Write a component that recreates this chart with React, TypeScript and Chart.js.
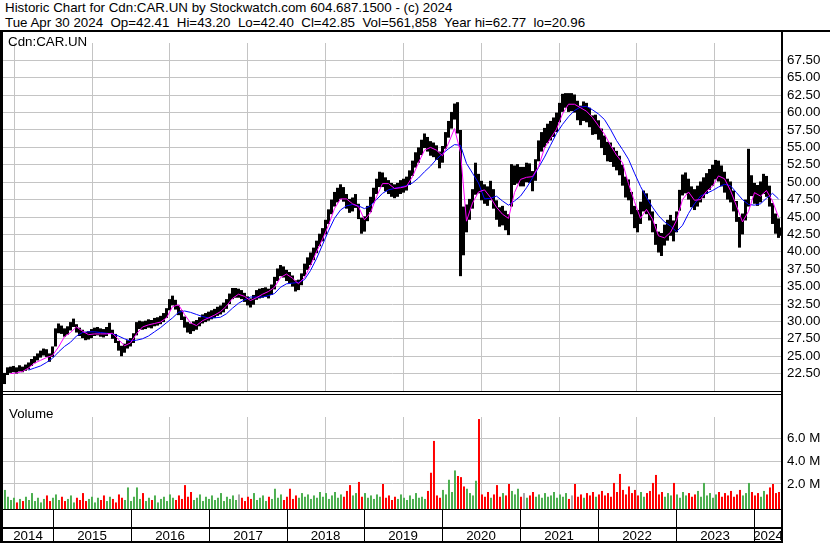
import React, { useEffect, useRef } from "react";
import { Chart, registerables } from "chart.js";

Chart.register(...registerables);

// ---------- data ----------
// biweekly samples, first one in mid-May 2014, last one at end of April 2024
const FIRST_SAMPLE = 2014.374; // fractional year
const SAMPLE_STEP = 0.03855; // ~14 days, in years

const LOWS = [
  21.0, 22.3, 22.6, 22.7, 22.5, 22.8, 22.7, 22.9, 23.1, 23.6,
  24.0, 24.4, 24.8, 25.1, 24.9, 24.2, 24.9, 26.4, 28.3, 28.2,
  27.8, 28.1, 28.7, 29.2, 28.4, 27.9, 27.6, 27.3, 27.4, 27.6,
  27.9, 28.0, 27.8, 27.7, 27.9, 28.2, 27.5, 26.9, 25.8, 25.0,
  25.5, 26.1, 26.4, 26.9, 28.0, 28.9, 28.8, 28.9, 29.1, 29.0,
  29.3, 29.4, 29.6, 29.9, 30.5, 31.6, 32.3, 31.7, 30.9, 30.2,
  29.1, 28.4, 28.2, 28.6, 28.8, 29.3, 29.7, 29.9, 30.1, 30.3,
  30.5, 30.8, 31.0, 31.3, 31.8, 32.5, 33.2, 33.4, 33.4, 33.2,
  32.8, 32.3, 32.0, 32.4, 33.1, 33.3, 33.4, 33.5, 33.3, 33.8,
  34.6, 35.8, 36.5, 36.3, 35.8, 35.5, 35.0, 34.3, 34.5, 35.2,
  36.5, 37.4, 38.1, 38.8, 39.8, 40.8, 41.5, 42.5, 44.0, 45.4,
  46.5, 47.1, 47.6, 47.2, 46.2, 45.6, 45.8, 46.3, 44.7, 42.6,
  42.9, 44.4, 45.7, 47.0, 48.3, 49.3, 49.3, 48.7, 48.3, 47.9,
  47.7, 47.9, 48.3, 48.5, 48.8, 49.6, 50.9, 52.1, 52.8, 53.9,
  54.9, 54.4, 53.8, 53.6, 53.2, 52.0, 52.8, 54.8, 56.4, 57.7,
  59.0, 57.0, 36.5, 39.5, 42.8, 44.6, 46.2, 48.2, 48.4, 47.4,
  46.9, 46.6, 47.4, 46.2, 44.6, 43.6, 43.8, 43.1, 42.4, 46.5,
  49.6, 49.8, 49.4, 49.4, 50.0, 49.9, 48.7, 50.2, 53.0, 54.4,
  55.0, 55.6, 56.0, 56.5, 57.2, 58.6, 60.1, 60.7, 60.1, 60.2,
  60.0, 58.9, 58.2, 58.8, 58.6, 57.9, 56.8, 56.9, 56.1, 54.9,
  53.9, 53.0, 52.9, 52.2, 51.7, 51.0, 49.5, 47.8, 47.4, 45.4,
  43.4, 42.8, 44.0, 45.8, 45.4, 44.5, 42.8, 41.0, 39.9, 39.4,
  40.9, 41.6, 42.3, 41.5, 42.8, 45.9, 48.1, 48.4, 47.5, 46.4,
  46.0, 46.5, 47.1, 47.7, 48.3, 48.9, 49.5, 50.4, 50.1, 49.4,
  48.5, 47.5, 47.1, 45.8, 44.3, 40.6, 42.5, 44.5, 46.5, 48.0,
  46.9, 46.6, 47.1, 48.3, 47.9, 46.5, 44.0, 42.6, 42.0, 42.3,
];

const HIGHS = [
  22.6, 23.4, 23.5, 23.6, 23.4, 23.7, 23.5, 23.8, 24.1, 24.6,
  25.0, 25.4, 25.8, 26.1, 26.0, 25.4, 26.4, 29.0, 29.7, 29.4,
  29.0, 29.3, 29.9, 30.4, 29.6, 29.1, 28.8, 28.5, 28.6, 28.9,
  29.1, 29.2, 29.0, 28.9, 29.2, 29.8, 28.8, 28.2, 27.2, 26.5,
  26.8, 27.3, 27.6, 28.3, 29.9, 30.1, 30.0, 30.1, 30.3, 30.2,
  30.5, 30.6, 30.8, 31.2, 31.9, 33.2, 33.7, 33.1, 32.3, 31.6,
  30.7, 29.9, 29.7, 30.0, 30.2, 30.6, 31.0, 31.2, 31.4, 31.6,
  31.8, 32.1, 32.3, 32.7, 33.2, 34.0, 34.8, 34.8, 34.7, 34.5,
  34.1, 33.6, 33.3, 33.8, 34.5, 34.7, 34.8, 34.9, 34.7, 35.3,
  36.4, 37.6, 38.1, 37.9, 37.4, 37.1, 36.6, 35.9, 36.0, 36.9,
  38.3, 39.2, 39.9, 40.6, 41.6, 42.6, 43.4, 44.6, 46.1, 47.5,
  48.6, 49.2, 49.7, 49.3, 48.3, 47.6, 47.8, 48.3, 46.9, 44.9,
  45.1, 46.6, 47.9, 49.2, 50.5, 51.5, 51.4, 50.7, 50.3, 49.9,
  49.7, 49.9, 50.3, 50.5, 50.8, 51.7, 53.1, 54.3, 55.0, 56.1,
  57.0, 56.5, 55.9, 55.7, 55.3, 54.4, 55.2, 57.2, 58.8, 60.1,
  61.3, 61.5, 57.5, 46.5, 46.8, 47.6, 49.0, 52.8, 51.2, 50.2,
  49.7, 49.4, 50.2, 49.0, 47.4, 46.4, 46.6, 45.9, 45.4, 52.6,
  52.4, 52.6, 52.2, 52.2, 52.8, 52.7, 51.6, 53.3, 56.0, 57.2,
  57.8, 58.4, 58.8, 59.3, 60.0, 61.4, 62.7, 62.8, 62.8, 62.8,
  62.6, 61.7, 61.0, 61.6, 61.4, 60.7, 59.6, 59.7, 58.9, 57.7,
  56.7, 55.8, 55.7, 55.0, 54.5, 53.8, 52.5, 50.8, 50.4, 48.6,
  46.6, 46.0, 47.2, 48.8, 48.4, 47.5, 45.8, 44.0, 42.9, 42.7,
  43.9, 44.6, 45.3, 44.5, 45.8, 48.9, 51.1, 51.4, 50.5, 49.4,
  49.0, 49.5, 50.1, 50.7, 51.3, 51.9, 52.5, 53.2, 53.1, 52.4,
  51.5, 50.5, 50.1, 48.8, 47.3, 45.0, 45.5, 47.5, 54.8, 51.0,
  49.9, 49.6, 50.1, 51.2, 50.9, 49.5, 47.0, 45.5, 44.8, 43.5,
];

// moving averages, one value every second sample
const MA_SHORT = [
  null, 22.5, 22.6, 22.8, 23.3, 24.0, 24.4, 24.8, 25.1, 26.3,
  27.8, 28.4, 29.2, 28.6, 28.1, 28.2, 28.2, 28.2, 28.3, 27.4,
  26.5, 26.9, 28.2, 29.2, 29.5, 29.7, 29.9, 30.5, 32.1, 32.4,
  31.0, 29.8, 29.4, 30.1, 30.5, 30.9, 31.4, 32.2, 33.3, 33.9,
  33.6, 33.0, 33.4, 33.9, 34.3, 34.9, 36.3, 36.8, 36.2, 35.4,
  36.3, 38.0, 40.0, 41.8, 43.8, 46.2, 47.6, 47.6, 46.9, 46.5,
  44.6, 45.6, 47.9, 49.8, 49.8, 49.1, 49.2, 49.4, 50.8, 52.8,
  54.6, 55.0, 54.6, 53.8, 55.6, 57.7, 54.3, 44.4, 47.0, 48.6,
  48.9, 47.8, 46.4, 45.4, 44.8, 48.5, 50.4, 50.7, 50.8, 52.2,
  54.9, 56.3, 57.6, 59.8, 61.2, 61.2, 60.7, 60.2, 59.3, 58.1,
  56.9, 55.3, 53.9, 52.8, 49.8, 47.2, 44.8, 46.1, 44.7, 42.3,
  42.0, 42.8, 44.5, 47.5, 48.6, 47.4, 47.5, 48.7, 49.4, 50.9,
  50.5, 48.8, 46.6, 44.3, 45.8, 48.5, 48.0, 48.8, 47.3, 45.0,
];

const MA_LONG = [
  null, null, null, null, 23.0, 23.3, 23.6, 24.1, 24.7, 25.6,
  26.4, 27.0, 27.9, 28.4, 28.5, 28.5, 28.4, 28.3, 28.2, 27.9,
  27.5, 27.2, 27.3, 27.5, 27.9, 28.5, 29.1, 29.8, 30.5, 31.3,
  31.5, 31.3, 31.0, 30.7, 30.5, 30.5, 30.6, 31.1, 31.9, 32.6,
  33.1, 33.5, 33.5, 33.5, 33.7, 34.0, 34.9, 35.4, 35.5, 35.6,
  36.0, 37.3, 39.0, 41.0, 43.0, 44.8, 46.0, 46.6, 46.8, 46.6,
  46.2, 46.6, 47.5, 48.4, 48.9, 49.1, 49.3, 49.5, 49.9, 50.6,
  51.5, 52.3, 53.3, 54.1, 54.8, 55.4, 55.3, 52.7, 51.3, 49.9,
  47.6, 47.7, 48.0, 47.3, 46.7, 47.3, 48.0, 49.2, 50.6, 52.1,
  53.6, 55.3, 57.0, 58.3, 59.4, 60.3, 60.8, 60.9, 60.4, 59.8,
  59.0, 57.6, 56.0, 54.7, 53.3, 51.3, 49.4, 47.8, 46.4, 45.2,
  44.3, 43.7, 42.9, 43.8, 45.5, 46.9, 48.0, 48.4, 48.8, 49.3,
  49.7, 49.5, 48.5, 47.5, 46.8, 46.7, 46.9, 47.7, 48.4, 47.6,
];

// volume, millions of shares
const VOLUME = [
  1.5, 0.9, 0.6, 0.8, 0.4, 0.7, 0.5, 0.9, 0.6, 1.2,
  0.5, 0.8, 0.4, 0.7, 1.0, 0.5, 0.8, 1.1, 0.6, 0.9,
  0.5, 0.7, 1.0, 0.4, 0.8, 0.6, 1.2, 0.5, 0.7, 0.9,
  0.4, 0.8, 0.6, 1.0, 0.5, 0.9, 0.7, 0.4, 1.1, 0.8,
  0.6, 1.7, 0.5, 0.9, 1.7, 0.7, 1.2, 0.5, 0.8, 0.6,
  1.0, 0.4, 0.7, 0.9, 0.5, 1.1, 0.8, 0.6, 1.0, 0.7,
  1.9, 0.9, 1.3, 0.6, 0.8, 1.1, 0.5, 0.9, 0.7, 1.0,
  0.6, 0.8, 1.2, 0.5, 0.9, 0.7, 1.0, 0.6, 1.1, 0.8,
  0.5, 0.9, 0.7, 1.2, 0.6, 0.8, 1.0, 0.5, 0.9, 0.7,
  1.6, 0.8, 1.1, 0.6, 0.9, 1.6, 0.7, 1.0, 0.8, 1.2,
  0.9, 1.1, 0.7, 1.0, 0.8, 1.3, 0.9, 1.2, 0.7, 1.0,
  1.3, 0.8, 1.1, 0.9, 1.4, 1.9, 1.0, 1.2, 2.2, 0.9,
  1.2, 0.8, 1.0, 0.7, 1.1, 0.9, 2.0, 0.8, 1.0, 0.6,
  0.9, 0.7, 1.1, 0.8, 0.6, 1.0, 0.7, 1.2, 0.8, 0.9,
  0.7, 1.4, 3.0, 5.8, 1.0, 0.8, 1.5, 1.1, 2.4, 1.3,
  3.2, 2.7, 2.6, 1.8, 1.6, 1.2, 1.0, 2.3, 7.7, 1.1,
  0.9, 1.3, 0.8, 1.1, 1.9, 0.9, 1.2, 1.0, 2.0, 1.4,
  1.1, 1.6, 0.9, 1.2, 0.8, 1.0, 1.3, 0.9, 1.1, 0.8,
  1.2, 0.9, 1.0, 1.3, 0.8, 1.1, 0.9, 1.2, 0.7, 1.0,
  2.0, 0.9, 1.1, 0.8, 1.2, 1.0, 1.3, 0.9, 1.1, 1.4,
  1.0, 1.2, 0.9, 2.1, 1.3, 2.9, 1.5, 1.1, 1.8, 1.2,
  1.5, 1.0, 1.3, 0.9, 1.2, 1.4, 2.1, 2.8, 1.1, 1.3,
  0.9, 1.2, 1.0, 2.1, 1.1, 0.8, 1.3, 1.0, 1.2, 0.9,
  1.1, 1.4, 0.9, 2.1, 1.0, 1.2, 0.8, 1.1, 1.3, 0.9,
  1.2, 1.0, 1.4, 0.9, 1.1, 1.5, 1.0, 1.2, 2.1, 1.3,
  1.0, 1.2, 0.9, 1.4, 1.1, 1.7, 2.0, 1.2, 1.3, 0.8,
];

const X_MIN = 2014.355;
const X_MAX = 2024.365;
const YEAR_STARTS = [2015, 2016, 2017, 2018, 2019, 2020, 2021, 2022, 2023, 2024];
const YEAR_LABELS = ["2014", "2015", "2016", "2017", "2018", "2019", "2020", "2021", "2022", "2023", "2024"];
const PRICE_TICKS = [22.5, 25, 27.5, 30, 32.5, 35, 37.5, 40, 42.5, 45, 47.5, 50, 52.5, 55, 57.5, 60, 62.5, 65, 67.5];
const VOLUME_TICKS = [2, 4, 6];

const HEADER_1 = "Historic Chart for Cdn:CAR.UN by Stockwatch.com 604.687.1500 - (c) 2024";
const HEADER_2 = "Tue Apr 30 2024  Op=42.41  Hi=43.20  Lo=42.40  Cl=42.85  Vol=561,858  Year hi=62.77  lo=20.96";
const SYMBOL = "Cdn:CAR.UN";

// ---------- styles ----------
const FONT = "'Liberation Sans', Arial, Helvetica, sans-serif";
const FONT_SIZE = 13.33;
const GRID = "#c4c4c4";
const GAP = "rgba(0,0,0,0)";
const W = 830;
const PRICE_H = 374; // page y 30 .. 404
const VOL_H = 139; // page y 404 .. 543
const RIGHT_AXIS_W = 48;

const times = LOWS.map((_, i) => FIRST_SAMPLE + i * SAMPLE_STEP);

function yearTicks(scale: any) {
  scale.ticks = YEAR_STARTS.map((v) => ({ value: v }));
}

const priceFrame = {
  id: "priceFrame",
  afterDraw(chart: any) {
    const { ctx, chartArea: a, height } = chart;
    ctx.save();
    ctx.fillStyle = "#000";
    ctx.fillRect(0, 0, W, 2);
    ctx.fillRect(0, 0, 3, height);
    ctx.fillRect(a.right - 1, 0, 2, height);
    ctx.fillRect(0, a.bottom, a.right, 1);
    ctx.fillRect(0, a.bottom + 3, a.right, 1);
    ctx.font = `${FONT_SIZE}px ${FONT}`;
    ctx.textBaseline = "alphabetic";
    ctx.textAlign = "left";
    ctx.fillText(SYMBOL, 8, 16);
    ctx.restore();
  },
};

const volumeFrame = {
  id: "volumeFrame",
  afterDraw(chart: any) {
    const { ctx, chartArea: a, height } = chart;
    const xs = chart.scales.x;
    ctx.save();
    ctx.fillStyle = "#000";
    ctx.fillRect(0, 0, 3, height);
    ctx.fillRect(a.right - 1, 0, 2, height);
    ctx.fillRect(0, a.bottom, a.right, 1);
    ctx.fillRect(0, a.bottom + 18, a.right, 2);
    ctx.fillRect(0, height - 2, a.right, 2);
    const px = YEAR_STARTS.map((y) => Math.round(xs.getPixelForValue(y)));
    px.forEach((x) => ctx.fillRect(x, a.bottom, 1, height - a.bottom));
    const bounds = [a.left, ...px, a.right];
    ctx.font = `${FONT_SIZE}px ${FONT}`;
    ctx.textAlign = "center";
    ctx.textBaseline = "alphabetic";
    YEAR_LABELS.forEach((lab, i) => {
      ctx.fillText(lab, (bounds[i] + bounds[i + 1]) / 2, height - 3);
    });
    ctx.textAlign = "left";
    ctx.fillText("Volume", 9, 14);
    ctx.restore();
  },
};

export default function App() {
  const priceRef = useRef<HTMLCanvasElement>(null);
  const volRef = useRef<HTMLCanvasElement>(null);

  useEffect(() => {
    const rangePts = LOWS.map((lo, i) => ({ x: times[i], y: [lo, HIGHS[i]] }));
    const maShortPts = MA_SHORT.map((v, k) => ({ x: times[2 * k], y: v }));
    const maLongPts = MA_LONG.map((v, k) => ({ x: times[2 * k], y: v }));
    const mids = LOWS.map((lo, i) => (lo + HIGHS[i]) / 2);
    const volPts = VOLUME.map((v, i) => ({ x: times[i], y: v }));
    const volColors = VOLUME.map((_, i) => {
      if (i === 0) return "#4caf50";
      const d = mids[i] - mids[i - 1];
      if (d > 0.05) return "#4caf50";
      if (d < -0.05) return "#ff0000";
      return "#a8a8a8";
    });

    const tickFont = { family: FONT, size: FONT_SIZE };

    const price = new Chart(priceRef.current as HTMLCanvasElement, {
      type: "bar",
      data: {
        datasets: [
          {
            type: "line",
            data: maShortPts as any,
            borderColor: "#ff00ff",
            borderWidth: 1,
            pointRadius: 0,
            tension: 0,
            order: 0,
          },
          {
            type: "line",
            data: maLongPts as any,
            borderColor: "#0000ff",
            borderWidth: 1,
            pointRadius: 0,
            tension: 0,
            order: 0,
          },
          {
            type: "bar",
            data: rangePts as any,
            backgroundColor: "#000000",
            barThickness: 3,
            inflateAmount: 0,
            order: 1,
          } as any,
        ],
      },
      options: {
        animation: false,
        responsive: false,
        maintainAspectRatio: false,
        layout: { padding: { left: 3, top: 1, bottom: 4, right: 0 } },
        plugins: { legend: { display: false }, tooltip: { enabled: false } },
        scales: {
          x: {
            type: "linear",
            min: X_MIN,
            max: X_MAX,
            offset: false,
            grid: { color: GRID, drawTicks: false },
            border: { display: false },
            ticks: { display: false },
            afterBuildTicks: yearTicks,
            afterFit: (s: any) => {
              s.height = 0;
            },
          },
          y: {
            position: "right",
            min: 20,
            max: 70,
            grid: { color: GRID, drawTicks: false },
            border: { display: false },
            ticks: {
              padding: 5,
              color: "#000",
              font: tickFont,
              callback: (v: any) => Number(v).toFixed(2),
            },
            afterBuildTicks: (s: any) => {
              s.ticks = PRICE_TICKS.map((v) => ({ value: v }));
            },
            afterFit: (s: any) => {
              s.width = RIGHT_AXIS_W;
            },
          },
        },
      } as any,
      plugins: [priceFrame],
    });

    const volume = new Chart(volRef.current as HTMLCanvasElement, {
      type: "bar",
      data: {
        datasets: [
          {
            data: volPts as any,
            backgroundColor: volColors,
            borderColor: GAP,
            borderWidth: { left: 1, right: 0, top: 0, bottom: 0 },
            borderSkipped: false,
            base: -0.2,
            barThickness: 3,
            inflateAmount: 0,
          } as any,
        ],
      },
      options: {
        animation: false,
        responsive: false,
        maintainAspectRatio: false,
        layout: { padding: { left: 3, top: 0, bottom: 34, right: 0 } },
        plugins: { legend: { display: false }, tooltip: { enabled: false } },
        scales: {
          x: {
            type: "linear",
            min: X_MIN,
            max: X_MAX,
            offset: false,
            grid: { color: GRID, drawTicks: false },
            border: { display: false },
            ticks: { display: false },
            afterBuildTicks: yearTicks,
            afterFit: (s: any) => {
              s.height = 0;
            },
          },
          y: {
            position: "right",
            min: -0.2,
            max: 7.88,
            grid: { color: GRID, drawTicks: false },
            border: { display: false },
            ticks: {
              padding: 5,
              color: "#000",
              font: tickFont,
              callback: (v: any) => Number(v).toFixed(1) + " M",
            },
            afterBuildTicks: (s: any) => {
              s.ticks = VOLUME_TICKS.map((v) => ({ value: v }));
            },
            afterFit: (s: any) => {
              s.width = RIGHT_AXIS_W;
            },
          },
        },
      } as any,
      plugins: [volumeFrame],
    });

    return () => {
      price.destroy();
      volume.destroy();
    };
  }, []);

  return (
    <div
      style={{
        position: "absolute",
        left: 0,
        top: 0,
        width: W,
        height: 543,
        background: "#fff",
        overflow: "hidden",
      }}
    >
      <div
        style={{
          position: "absolute",
          left: 5,
          top: 0,
          font: `${FONT_SIZE}px ${FONT}`,
          lineHeight: "15px",
          whiteSpace: "pre",
          color: "#000",
        }}
      >
        {HEADER_1}
        {"\n"}
        {HEADER_2}
      </div>
      <canvas
        ref={priceRef}
        width={W}
        height={PRICE_H}
        style={{ position: "absolute", left: 0, top: 30, width: W, height: PRICE_H }}
      />
      <canvas
        ref={volRef}
        width={W}
        height={VOL_H}
        style={{ position: "absolute", left: 0, top: 404, width: W, height: VOL_H }}
      />
    </div>
  );
}
